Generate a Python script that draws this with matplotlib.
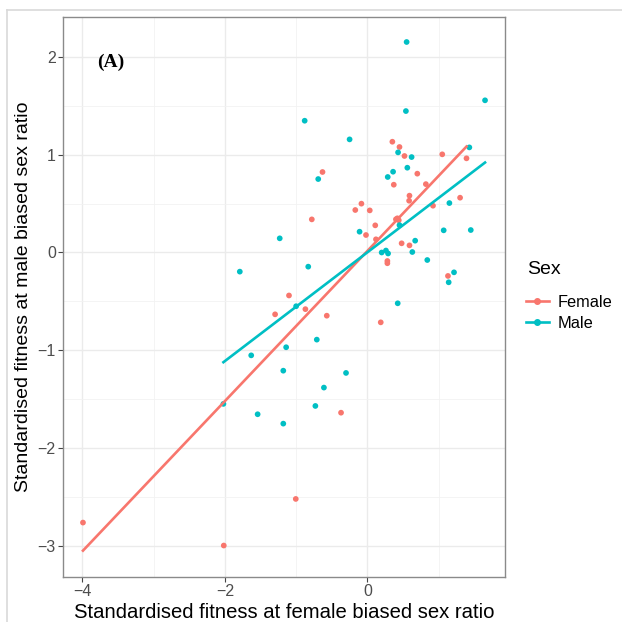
import numpy as np
import matplotlib
matplotlib.use("Agg")
import matplotlib.pyplot as plt
from matplotlib.lines import Line2D

plt.rcParams['font.family'] = ['Liberation Sans', 'DejaVu Sans']

#   Data
female_x = [0.35, 0.45, 0.52, 1.05, 1.39, -0.63, 0.70, 0.37, 0.82, 0.59, 0.585, 1.30, 0.92,
            -0.084, -0.17, 0.033, -0.78, 0.40, 0.42, 0.44, 0.11, -0.02, 0.12, 0.48, 0.59,
            0.28, 0.28, 1.13, -1.10, -0.87, -1.295, -0.57, 0.187, -0.37, -1.005, -3.99, -2.015]
female_y = [1.134, 1.08, 0.988, 1.005, 0.964, 0.824, 0.807, 0.694, 0.70, 0.582, 0.53, 0.561, 0.479,
            0.50, 0.435, 0.431, 0.339, 0.34, 0.35, 0.33, 0.278, 0.179, 0.135, 0.094, 0.073,
            -0.087, -0.11, -0.24, -0.44, -0.58, -0.633, -0.647, -0.715, -1.64, -2.523, -2.765, -3.0]

male_x = [0.55, 1.65, 0.54, -0.88, -0.25, 1.43, 0.43, 0.62, 0.56, 0.36, 0.285, -0.69, 1.15,
          -0.11, 1.07, 1.45, -1.23, 0.67, 0.20, 0.26, 0.29, 0.63, 0.84, 0.45, -1.79, -0.83,
          1.215, 1.14, 0.425, -1.0, -0.71, -1.14, -1.63, -1.18, -0.30, -0.61, -0.73, -1.54,
          -1.18, -2.02]
male_y = [2.155, 1.558, 1.448, 1.349, 1.158, 1.076, 1.025, 0.977, 0.868, 0.827, 0.773, 0.752, 0.506,
          0.213, 0.227, 0.23, 0.145, 0.121, 0.0, 0.02, -0.01, 0.005, -0.077, 0.28, -0.196, -0.145,
          -0.203, -0.305, -0.52, -0.55, -0.892, -0.97, -1.053, -1.21, -1.233, -1.383, -1.571, -1.656,
          -1.752, -1.55]

#   lm fits (slope, intercept)
fit_slope = {"Female": 0.769, "Male": 0.557}
fit_icept = {"Female": 0.016, "Male": 0.002}

groups = ["Female", "Male"]
colors = {"Female": "#F8766D", "Male": "#00BFC4"}
data = {"Female": (female_x, female_y), "Male": (male_x, male_y)}

fig = plt.figure(figsize=(6.22, 6.22), dpi=100)
ax = fig.add_axes([0.102, 0.073, 0.710, 0.900])

#   light frame of the original screenshot
fig.add_artist(Line2D([7/622, 1], [1 - 10/622, 1 - 10/622], color="#d9d9d9", lw=1.2))
fig.add_artist(Line2D([7/622, 7/622], [0, 1 - 10/622], color="#d9d9d9", lw=1.2))

for g in groups:
    x, y = np.array(data[g][0]), np.array(data[g][1])
    ax.scatter(x, y, s=17, color=colors[g], edgecolors="none", zorder=3)

for g in groups:
    x = np.array(data[g][0])
    xs = np.array([x.min(), x.max()])
    ax.plot(xs, fit_icept[g] + fit_slope[g] * xs, color=colors[g], lw=1.9, zorder=4)

ax.set_xlim(-4.264, 1.931)
ax.set_ylim(-3.318, 2.413)
ax.set_xticks([-4, -2, 0])
ax.set_xticklabels(["\u22124", "\u22122", "0"])
ax.set_yticks([-3, -2, -1, 0, 1, 2])
ax.set_yticklabels(["\u22123", "\u22122", "\u22121", "0", "1", "2"])
ax.set_xticks([-3, -1, 1], minor=True)
ax.set_yticks([-2.5, -1.5, -0.5, 0.5, 1.5], minor=True)
ax.grid(True, which="major", color="#EBEBEB", lw=1.0, zorder=0)
ax.grid(True, which="minor", color="#F2F2F2", lw=0.6, zorder=0)
ax.tick_params(which="minor", length=0)
ax.tick_params(which="major", length=3.5, width=0.8, color="#444444",
               labelsize=11.5, labelcolor="#4D4D4D", pad=2)
for s in ax.spines.values():
    s.set_color("#8a8a8a")
    s.set_linewidth(1.0)
ax.set_axisbelow(True)

ax.set_xlabel("Standardised fitness at female biased sex ratio", fontsize=14.6, labelpad=3)
ax.set_ylabel("Standardised fitness at male biased sex ratio", fontsize=14, labelpad=4)

ax.text(-3.79, 1.95, "(A)", fontsize=14, fontweight="bold", family="Liberation Serif",
        va="center", ha="left")

#   legend
fig.text(527/622, 1 - 270/622, "Sex", fontsize=14, va="center", ha="left")
handles = [Line2D([0], [0], color=colors[g], lw=1.9, marker="o", markersize=4) for g in groups]
fig.legend(handles, groups, loc="upper left", bbox_to_anchor=(521/622, 1 - 290/622),
           frameon=False, fontsize=11.8, handlelength=1.4, handletextpad=0.55,
           labelspacing=0.35, borderaxespad=0, borderpad=0.3)

fig.savefig("out.png", dpi=100)
